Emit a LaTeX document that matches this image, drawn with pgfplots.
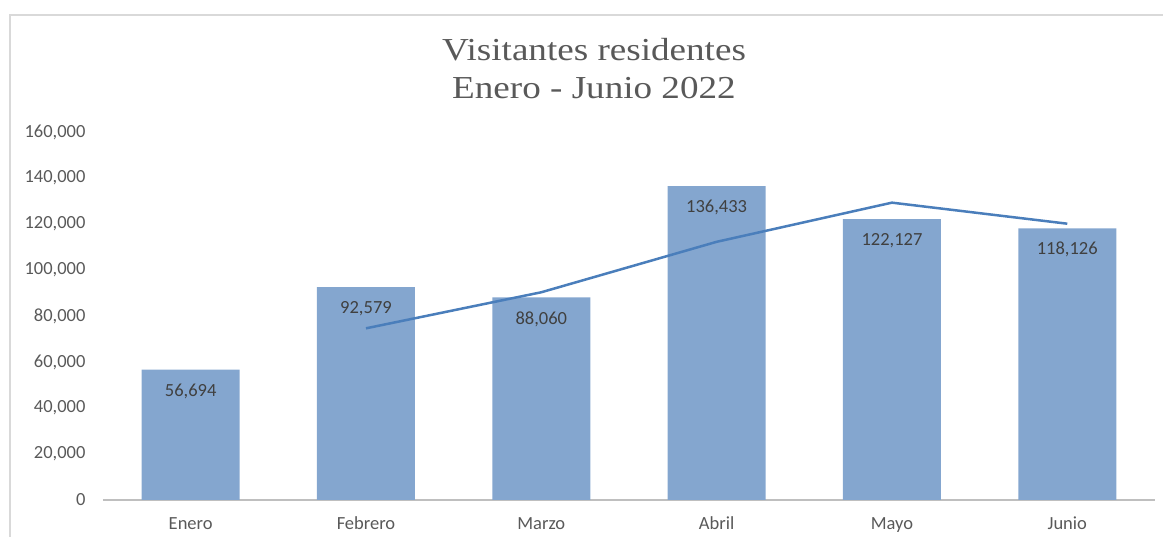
\documentclass[border=0pt]{standalone}
\usepackage{pgfplots}
\pgfplotsset{compat=1.18}
\usepackage{fontspec}
\setmainfont{Carlito}
\newfontfamily\titlefont[FakeStretch=1.16]{Liberation Serif}
\definecolor{barblue}{RGB}{132,166,207}
\definecolor{lineblue}{RGB}{74,126,187}
\definecolor{txtgray}{RGB}{89,89,89}
\definecolor{lblgray}{RGB}{64,64,64}
\definecolor{axgray}{RGB}{191,191,191}
\definecolor{framegray}{RGB}{217,217,217}
\begin{document}
\begin{tikzpicture}[x=1pt,y=1pt]
\useasboundingbox (0,0) rectangle (1163,537);
\clip (0,0) rectangle (1163,537);
\draw[framegray, line width=1.5pt] (10,-20) -- (10,522) -- (1200,522);
\node[txtgray, font=\titlefont\fontsize{32}{38}\selectfont, align=center] at (594,468) {Visitantes residentes\\Enero - Junio 2022};
\begin{axis}[
  at={(103pt,37pt)}, anchor=south west,
  scale only axis, width=1052pt, height=368pt,
  xmin=-0.5, xmax=5.5, ymin=0, ymax=160000,
  axis y line*=left, axis x line*=bottom,
  y axis line style={draw=none},
  x axis line style={axgray, line width=2pt, -},
  xtick=data, xticklabels={Enero,Febrero,Marzo,Abril,Mayo,Junio},
  ytick={0,20000,...,160000},
  major tick length=0pt,
  tick style={draw=none},
  scaled y ticks=false,
  /pgf/number format/assume math mode=true,
  /pgf/number format/.cd, fixed, precision=0, 1000 sep={,}, /pgfplots/.cd,
  ticklabel style={font=\fontsize{18.5}{22}\selectfont, text=txtgray},
  xticklabel style={yshift=-13pt, text height=13pt, text depth=4pt},
  yticklabel style={xshift=-14pt},
  clip=false,
]
\addplot[ybar, bar width=98pt, fill=barblue, draw=none,
  nodes near coords,
  nodes near coords style={font=\fontsize{18.5}{22}\selectfont, text=lblgray, anchor=center, yshift=-21.5pt,
    /pgf/number format/.cd, fixed, precision=0, 1000 sep={,}, assume math mode=true},
] coordinates {(0,56694) (1,92579) (2,88060) (3,136433) (4,122127) (5,118126)};
\addplot[lineblue, line width=2.5pt, mark=none] coordinates {(1,74636.5) (2,90319.5) (3,112246.5) (4,129280) (5,120126.5)};
\end{axis}
\end{tikzpicture}
\end{document}
